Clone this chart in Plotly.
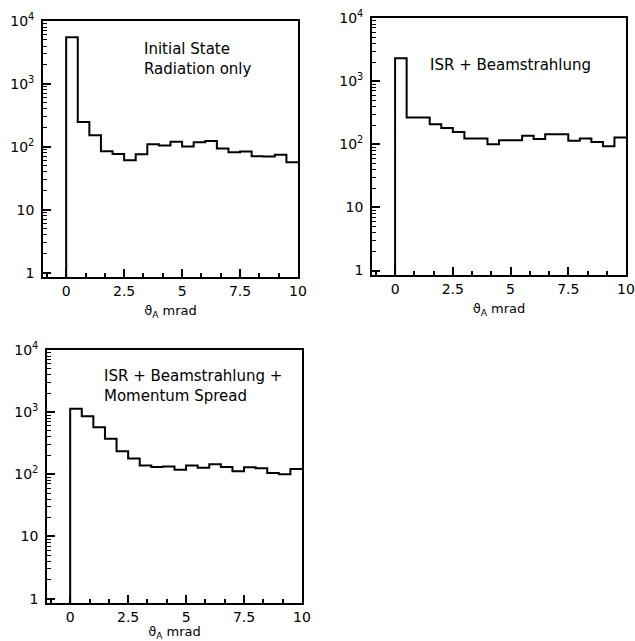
import plotly.graph_objects as go

# ---- data ----
bin_edges = [0.0, 0.5, 1.0, 1.5, 2.0, 2.5, 3.0, 3.5, 4.0, 4.5, 5.0,
             5.5, 6.0, 6.5, 7.0, 7.5, 8.0, 8.5, 9.0, 9.5, 10.0]

isr_only = [5520, 248, 153, 85, 77, 61, 76, 110, 105, 120,
            101, 118, 124, 94, 82, 84, 71, 70, 75, 57]

isr_beam = [2300, 265, 265, 208, 181, 157, 123, 124, 100, 116,
            116, 137, 121, 144, 144, 114, 123, 109, 93, 128]

isr_beam_spread = [1135, 863, 574, 374, 234, 179, 139, 131, 134, 119,
                   139, 128, 145, 131, 112, 130, 125, 105, 100, 122]

panel_labels = ["Initial State<br>Radiation only",
                "ISR + Beamstrahlung",
                "ISR + Beamstrahlung +<br>Momentum Spread"]

x_tickvals = [0, 2.5, 5, 7.5, 10]
x_ticktext = ["0", "2.5", "5", "7.5", "10"]
y_tickvals = [1, 10, 100, 1000, 10000]
y_ticktext = ["1", "10", "10<sup>2</sup>", "10<sup>3</sup>", "10<sup>4</sup>"]
y_minor_ticks = [m * d for d in (1, 10, 100, 1000) for m in range(2, 10)]
x_title = "ϑ<sub>A</sub> mrad"

BASE = 0.1  # histogram drops to below the axis at the first edge

FONT = "DejaVu Sans"
W, H = 635, 641

def step_xy(edges, counts):
    xs = [edges[0]] + list(edges[:-1]) + [edges[-1]]
    ys = [BASE] + list(counts) + [counts[-1]]
    return xs, ys

series = [isr_only, isr_beam, isr_beam_spread]

# pixel boxes of the three frames (left, right, top, bottom)
boxes = [(43, 298, 21, 277), (372, 626, 18, 275), (47, 302, 350, 603)]
label_pos = [(0.387, 0.853), (0.22, 0.817), (0.2145, 0.856)]

fig = go.Figure()
layout = dict(width=W, height=H, autosize=False,
              margin=dict(l=0, r=0, t=0, b=0),
              paper_bgcolor="white", plot_bgcolor="white",
              showlegend=False,
              font=dict(family=FONT, color="black", size=14),
              annotations=[])

for i, (counts, box, lab, lp) in enumerate(zip(series, boxes, panel_labels, label_pos)):
    n = "" if i == 0 else str(i + 1)
    xs, ys = step_xy(bin_edges, counts)
    fig.add_trace(go.Scatter(x=xs, y=ys, mode="lines", line_shape="hv",
                             line=dict(color="black", width=2),
                             xaxis="x" + n, yaxis="y" + n, hoverinfo="skip"))
    l, r, t, b = box
    layout["xaxis" + n] = dict(
        domain=[l / W, r / W], anchor="y" + n, range=[-1, 10],
        automargin=False,
        showline=True, linecolor="black", linewidth=1.8, mirror=True,
        showgrid=False, zeroline=False,
        tickmode="array", tickvals=x_tickvals, ticktext=x_ticktext,
        ticks="inside", ticklen=8, tickwidth=1.5, tickcolor="black",
        minor=dict(tickmode="linear", tick0=0, dtick=2.5 / 3, ticks="inside",
                   ticklen=4, tickwidth=1.5, tickcolor="black", showgrid=False),
        tickfont=dict(family=FONT, size=14),
        ticklabelstandoff=0,
        title=dict(text=x_title, font=dict(family=FONT, size=13), standoff=8),
    )
    layout["yaxis" + n] = dict(
        domain=[1 - b / H, 1 - t / H], anchor="x" + n, type="log",
        range=[-0.07, 4.0],
        automargin=False,
        showline=True, linecolor="black", linewidth=1.8, mirror=True,
        showgrid=False, zeroline=False,
        tickmode="array", tickvals=y_tickvals, ticktext=y_ticktext,
        ticks="inside", ticklen=8, tickwidth=1.5, tickcolor="black",
        minor=dict(tickmode="array", tickvals=y_minor_ticks, ticks="inside",
                   ticklen=4, tickwidth=1.2, tickcolor="black", showgrid=False),
        tickfont=dict(family=FONT, size=14),
        ticklabelstandoff=4,
    )
    layout["annotations"].append(dict(
        text=lab, xref="x" + n + " domain", yref="y" + n + " domain",
        x=lp[0], y=lp[1], xanchor="left", yanchor="middle", align="left",
        showarrow=False, font=dict(family=FONT, size=15, color="black")))

fig.update_layout(**layout)
fig.write_html(
    "out.html",
    config={"displayModeBar": False},
    post_script="document.body.style.margin='0';document.body.style.overflow='hidden';",
)
